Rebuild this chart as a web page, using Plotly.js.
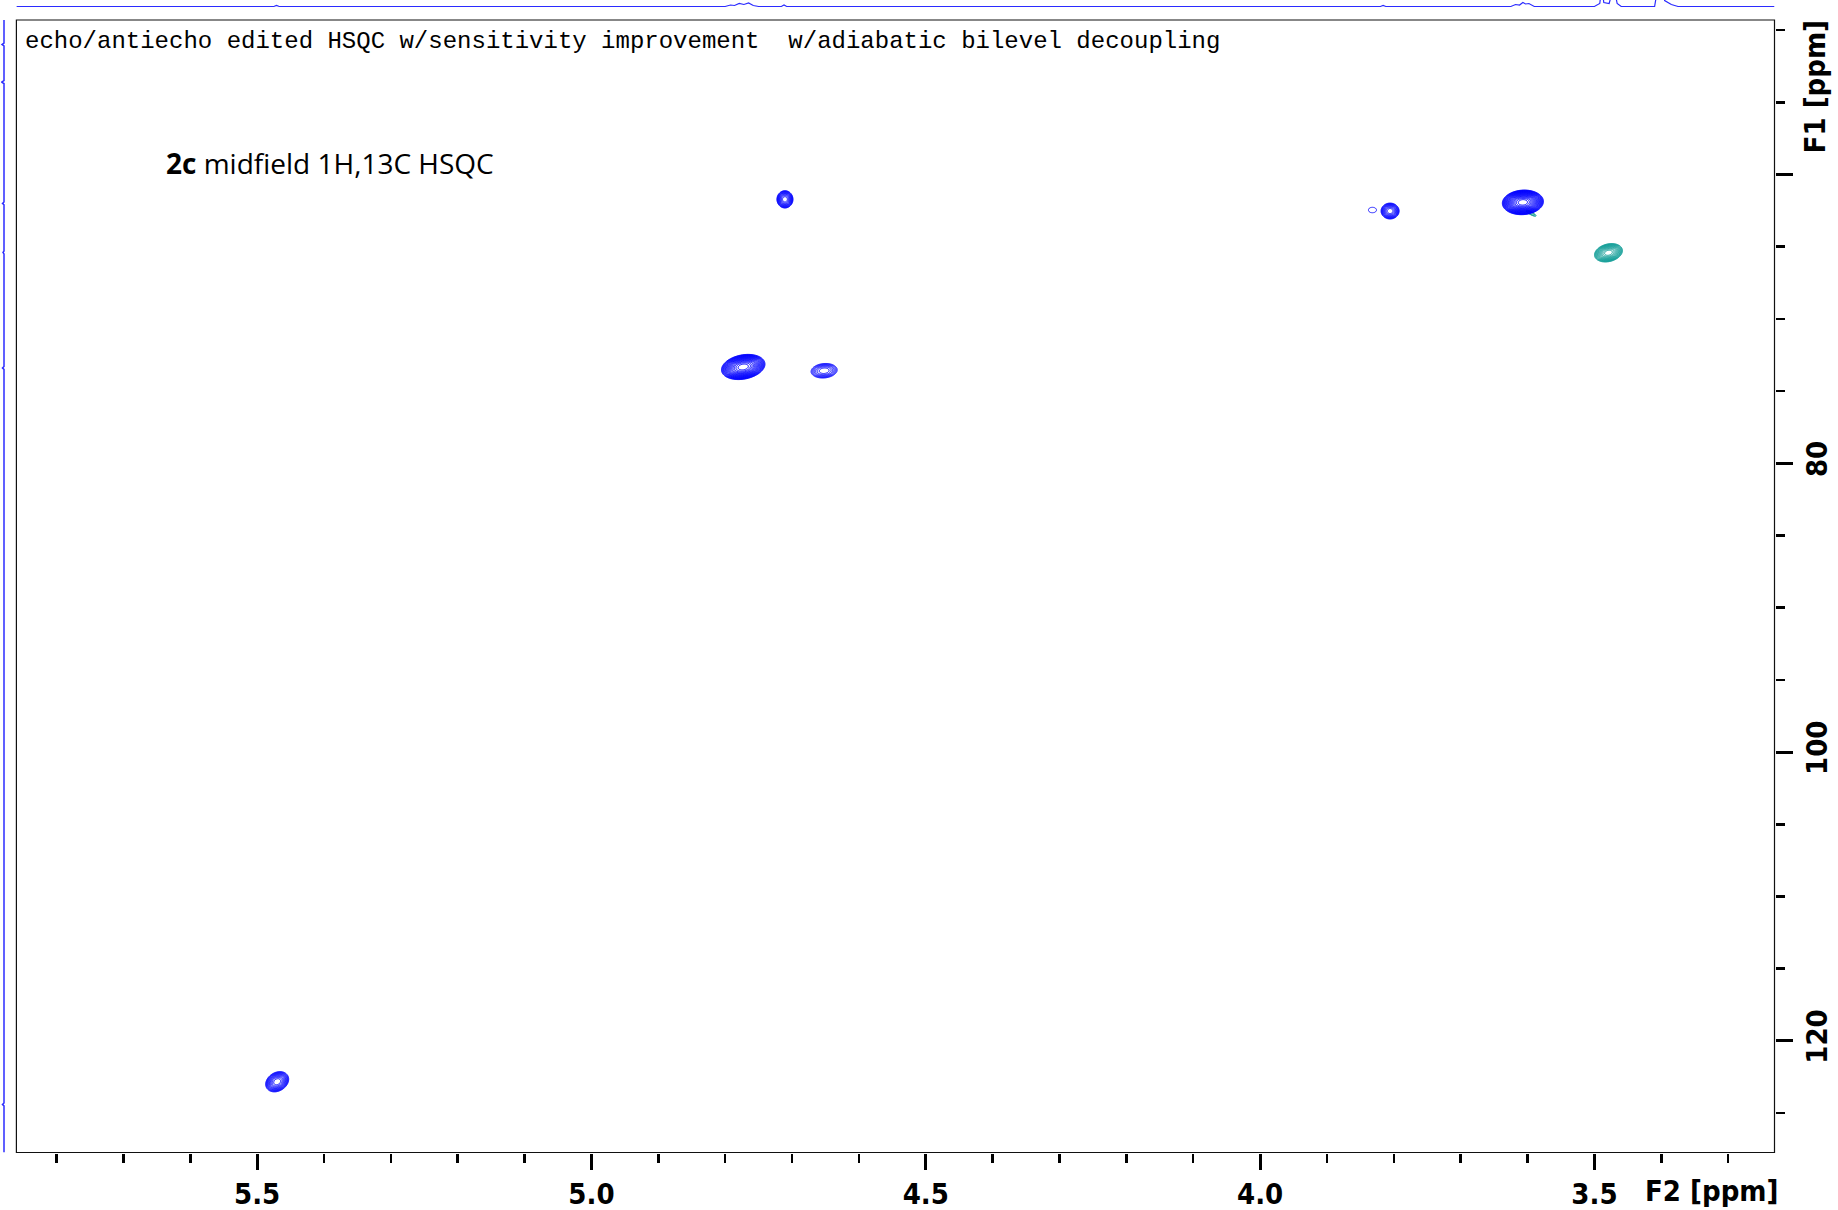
<!DOCTYPE html>
<html><head><meta charset="utf-8">
<script src="https://cdn.plot.ly/plotly-3.0.1.min.js"></script>
<style>html,body{margin:0;padding:0;background:#fff}</style>
</head><body><div id="chart" style="width:1838px;height:1210px"></div>
<script>
// ---- data ----
// 2D cross peaks (F2 = 1H ppm, F1 = 13C ppm)
const peakF2     = [4.7106, 4.773, 4.652, 3.8056, 3.832, 3.607, 3.5947, 3.479, 5.470];
const peakF1     = [61.72, 73.33, 73.59, 62.53, 62.46, 61.93, 62.69, 65.42, 122.83];
const peakLevels = [11, 18, 7, 10, 0.7, 20, 3, 13, 11];          // contour levels above threshold
const peakHalfF2 = [0.012, 0.0325, 0.0195, 0.0135, 0.006, 0.0307, 0.0075, 0.0209, 0.0172]; // outer contour half width
const peakHalfF1 = [0.6, 0.85, 0.5, 0.55, 0.19, 0.85, 0.11, 0.62, 0.68];
const peakTilt   = [0, 6, 3, 0, 0, 2, -23, 7, 10]; // dF1/dF2 shear
const peakSign   = [1, 1, 1, 1, 1, 1, -1, -1, 1];  // +: CH/CH3 (blue), -: CH2 (teal)

// 1D projection along F2 (top)
const topF2  = [5.86, 5.475, 5.471, 5.467, 4.80, 4.792, 4.786, 4.779, 4.772, 4.765, 4.758, 4.75, 4.716, 4.712, 4.708,
                3.82, 3.816, 3.812, 3.625, 3.618, 3.612, 3.607, 3.603, 3.598, 3.59,
                3.50, 3.492, 3.489, 3.486, 3.478, 3.471, 3.466, 3.46, 3.41, 3.405, 3.40, 3.395, 3.385, 3.375, 3.2307];
const topInt = [0, 0, 1, 0, 0, 1.5, 1, 3, 2, 3.5, 1, 0, 0, 1.5, 0,
                0, 1, 0, 0, 2, 1.5, 4, 2.5, 3, 0,
                0, 3, 20, 4, 3, 20, 3, 0, 0, 20, 20, 6, 2, 0, 0];
// 1D projection along F1 (left)
const leftF1  = [49.3, 50.9, 51.0, 51.1, 53.5, 53.6, 53.7, 61.9, 62.0, 62.1, 65.3, 65.4, 65.5, 73.3, 73.4, 73.5, 124.3, 124.4, 124.5, 127.73];
const leftInt = [0, 0, -2, 0, 0, -2.5, 0, 0, -1.5, 0, 0, -1, 0, 0, -1.5, 0, 0, -1.5, 0, 0];

const xTickVals = [5.5, 5.0, 4.5, 4.0, 3.5];
const xTickText = ['5.5', '5.0', '4.5', '4.0', '3.5'];
const yTickVals = [60, 80, 100, 120];
const yTickText = ['', '80', '100', '120'];

// ---- styling ----
const W = 1838, H = 1210;
const BLUE = 'rgb(0,0,255)';
const TEAL = 'rgb(20,158,152)';
const LEVEL = 1.3;
const TICKFONT = {family: '"DejaVu Sans Condensed", "DejaVu Sans", sans-serif', size: 29, color: '#000', weight: 'bold'};

function peakTrace(i) {
  const lnL = Math.log(LEVEL);
  const lnA = peakLevels[i] * lnL;
  const s2 = peakHalfF2[i] / Math.sqrt(2 * lnA);
  const s1 = peakHalfF1[i] / Math.sqrt(2 * lnA);
  const k = peakTilt[i];
  const ex = 1.4 * peakHalfF2[i];
  const ey = 1.4 * peakHalfF1[i] + Math.abs(k) * ex;
  const n = 91;
  const xs = [], ys = [], z = [];
  for (let a = 0; a < n; a++) xs.push(peakF2[i] - ex + 2 * ex * a / (n - 1));
  for (let b = 0; b < n; b++) ys.push(peakF1[i] - ey + 2 * ey * b / (n - 1));
  for (let b = 0; b < n; b++) {
    const row = [];
    for (let a = 0; a < n; a++) {
      const dx = xs[a] - peakF2[i];
      const dy = ys[b] - peakF1[i];
      const u = dx / s2, v = (dy - k * dx) / s1;
      row.push((lnA - 0.5 * (u * u + v * v)) / lnL);
    }
    z.push(row);
  }
  const col = peakSign[i] > 0 ? BLUE : TEAL;
  return {
    type: 'contour', x: xs, y: ys, z: z, xaxis: 'x', yaxis: 'y',
    autocontour: false,
    contours: {start: 0, end: Math.max(1, Math.ceil(peakLevels[i])), size: 1, coloring: 'lines', showlabels: false},
    line: {width: 1, smoothing: 1},
    colorscale: [[0, col], [1, col]], showscale: false, hoverinfo: 'skip'
  };
}

const traces = [];
const order = [6, 7, 0, 1, 2, 3, 4, 5, 8];
order.forEach(i => traces.push(peakTrace(i)));
traces.push({type: 'scatter', mode: 'lines', x: topF2, y: topInt, xaxis: 'x', yaxis: 'y2',
             line: {color: '#2b2bff', width: 1.2}, hoverinfo: 'skip', showlegend: false});
traces.push({type: 'scatter', mode: 'lines', x: leftInt, y: leftF1, xaxis: 'x3', yaxis: 'y',
             line: {color: '#2b2bff', width: 1.5}, hoverinfo: 'skip', showlegend: false});

const xDom = [16.4 / W, 1774.5 / W];
const yDom = [(H - 1152.5) / H, (H - 20) / H];

const layout = {
  width: W, height: H,
  margin: {l: 0, r: 0, t: 0, b: 0},
  paper_bgcolor: '#fff', plot_bgcolor: '#fff',
  showlegend: false,
  xaxis: {
    domain: xDom, anchor: 'y', range: [5.860, 3.2307],
    showgrid: false, zeroline: false, showline: false,
    tickmode: 'array', tickvals: xTickVals, ticktext: xTickText,
    ticks: 'outside', ticklen: 16, tickwidth: 3, tickcolor: '#000',
    tickfont: TICKFONT,
    minor: {tickmode: 'linear', tick0: 0, dtick: 0.1, ticks: 'outside', ticklen: 9, tickwidth: 2.5, tickcolor: '#000'}
  },
  yaxis: {
    domain: yDom, anchor: 'x', side: 'right', range: [127.73, 49.3],
    showgrid: false, zeroline: false, showline: false,
    tickmode: 'array', tickvals: yTickVals, ticktext: yTickText, tickangle: -90,
    ticks: 'outside', ticklen: 17, tickwidth: 3, tickcolor: '#000',
    tickfont: TICKFONT,
    minor: {tickmode: 'linear', tick0: 0, dtick: 5, ticks: 'outside', ticklen: 9, tickwidth: 2.5, tickcolor: '#000'}
  },
  yaxis2: {domain: [(H - 20) / H, 1], anchor: 'x', range: [-13.5, 6.5], visible: false, fixedrange: true},
  xaxis3: {domain: [0, 14.7 / W], anchor: 'y', range: [-4, 10.7], visible: false, fixedrange: true},
  shapes: [{type: 'rect', xref: 'x domain', yref: 'y domain', x0: 0, x1: 1, y0: 0, y1: 1,
            line: {color: '#111', width: 1.2}, fillcolor: 'rgba(0,0,0,0)', layer: 'above'}],
  annotations: [
    {xref: 'paper', yref: 'paper', x: 23.4 / W, y: (H - 42) / H, xanchor: 'left', yanchor: 'middle', showarrow: false,
     text: 'echo/antiecho edited HSQC w/sensitivity improvement&nbsp; w/adiabatic bilevel decoupling',
     font: {family: '"Liberation Mono", "Courier New", monospace', size: 24, color: '#000'}},
    {xref: 'paper', yref: 'paper', x: 164 / W, y: (H - 163) / H, xanchor: 'left', yanchor: 'middle', showarrow: false,
     text: '<b>2c</b> midfield 1H,13C HSQC',
     font: {family: '"Open Sans", sans-serif', size: 28, color: '#000'}},
    {xref: 'paper', yref: 'paper', x: 1711 / W, y: (H - 1191) / H, xanchor: 'center', yanchor: 'middle', showarrow: false,
     text: 'F2 [ppm]', font: TICKFONT},
    {xref: 'paper', yref: 'paper', x: 1814.6 / W, y: (H - 86.8) / H, xanchor: 'center', yanchor: 'middle', showarrow: false,
     text: 'F1 [ppm]', textangle: -90, font: TICKFONT}
  ]
};

Plotly.newPlot('chart', traces, layout, {staticPlot: true, displayModeBar: false});
</script>
</body></html>
